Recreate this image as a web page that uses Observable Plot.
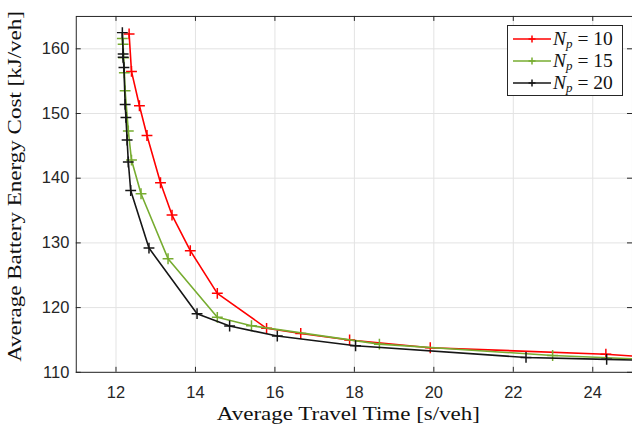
<!DOCTYPE html>
<html>
<head>
<meta charset="utf-8">
<script src="https://cdn.jsdelivr.net/npm/d3@7"></script>
<script src="https://cdn.jsdelivr.net/npm/@observablehq/plot@0.6"></script>
<style>
  html, body { margin: 0; padding: 0; background: #fff; overflow: hidden; }
  #wrap { position: relative; width: 632px; height: 426px; overflow: hidden; }
  #legend { position: absolute; left: 507px; top: 25px; width: 116px; height: 71px;
    border: 1px solid #262626; background: #fff; box-sizing: border-box;
    font-family: "Liberation Serif", "DejaVu Serif", serif; font-size: 19.5px; color: #111; }
  .row { position: absolute; left: 0; height: 22px; display: flex; align-items: center; }
  .row svg { margin-left: 5px; margin-right: 2px; }
  .row span { white-space: nowrap; }
  sub { font-size: 13px; vertical-align: -3px; line-height: 0; }
</style>
</head>
<body>
<div id="wrap"></div>
<script>
// ---- data ----
const seriesNames = ["N_p = 10", "N_p = 15", "N_p = 20"];
const seriesColors = ["#ff0000", "#77ac30", "#161616"];

const redX = [12.33, 12.39, 12.59, 12.78, 13.12, 13.41, 13.87, 14.55, 15.79, 16.65, 17.88, 19.91, 24.33, 26.0];
const redY = [162.3, 156.5, 151.2, 146.6, 139.3, 134.3, 128.8, 122.2, 116.8, 116.0, 115.0, 113.8, 112.8, 112.1];

const greenX = [12.16, 12.18, 12.19, 12.21, 12.23, 12.31, 12.39, 12.63, 13.31, 14.55, 15.41, 18.63, 22.99, 26.0];
const greenY = [161.6, 160.7, 158.6, 156.3, 153.5, 147.3, 142.8, 137.6, 127.55, 118.5, 117.2, 114.35, 112.6, 111.85];

const blackX = [12.16, 12.18, 12.18, 12.20, 12.23, 12.25, 12.28, 12.31, 12.37, 12.83, 14.04, 14.86, 16.06, 18.03, 22.32, 24.35, 26.0];
const blackY = [162.5, 159.2, 158.7, 157.1, 151.4, 149.4, 145.9, 142.5, 138.1, 129.2, 119.06, 117.16, 115.6, 114.1, 112.3, 112.0, 111.75];

const xTicks = [12, 14, 16, 18, 20, 22, 24];
const yTicks = [110, 120, 130, 140, 150, 160];
const xDomain = [11, 25];
const yDomain = [110, 165];
const xTitle = "Average Travel Time [s/veh]";
const yTitle = "Average Battery Energy Cost [kJ/veh]";

// ---- build tables ----
const toRows = (xs, ys) => xs.map((x, i) => ({x, y: ys[i]}));
const series = [toRows(redX, redY), toRows(greenX, greenY), toRows(blackX, blackY)];

const W = 634, H = 426, mL = 76, mR = 0, mT = 16, mB = 53;
const innerW = W - mL - mR, innerH = H - mT - mB;
const axisColor = "#262626";

const marks = [
  Plot.gridX(xTicks, {stroke: "#e3e3e3", strokeOpacity: 1, strokeWidth: 1}),
  Plot.gridY(yTicks, {stroke: "#e3e3e3", strokeOpacity: 1, strokeWidth: 1}),
];
series.forEach((rows, i) => {
  marks.push(Plot.line(rows, {x: "x", y: "y", stroke: seriesColors[i], strokeWidth: 1.6, clip: true}));
  marks.push(Plot.dot(rows, {x: "x", y: "y", symbol: "plus", r: 3.6, stroke: seriesColors[i], strokeWidth: 1.5, clip: true}));
});
marks.push(
  Plot.frame({stroke: axisColor, strokeWidth: 1}),
  Plot.ruleX(xTicks, {stroke: axisColor, insetTop: innerH - 5}),
  Plot.ruleX(xTicks, {stroke: axisColor, insetBottom: innerH - 5}),
  Plot.ruleY(yTicks, {stroke: axisColor, insetRight: innerW - 5}),
  Plot.ruleY(yTicks, {stroke: axisColor, insetLeft: innerW - 5}),
  Plot.axisX({ticks: xTicks, tickSize: 0, tickPadding: 14, label: null, fontSize: 16.5}),
  Plot.axisY({ticks: yTicks, tickSize: 0, tickPadding: 7, label: null, fontSize: 16.5}),
  Plot.text([xTitle], {text: d => d, frameAnchor: "bottom", dx: -6, dy: 48, lineAnchor: "bottom",
    textAnchor: "middle", fontFamily: "Liberation Serif", fontSize: 19, fill: "#111"}),
  Plot.text([yTitle], {text: d => d, frameAnchor: "left", rotate: -90, dx: -55, dy: -8, lineAnchor: "bottom",
    textAnchor: "middle", fontFamily: "Liberation Serif", fontSize: 19, fill: "#111"})
);

const chart = Plot.plot({
  width: W, height: H,
  marginLeft: mL, marginRight: mR, marginTop: mT, marginBottom: mB,
  x: {domain: xDomain},
  y: {domain: yDomain},
  style: {fontFamily: "'Liberation Sans', Arial, sans-serif", fontSize: "16.5px", color: axisColor, background: "#fff", overflow: "hidden"},
  marks
});
document.getElementById("wrap").appendChild(chart);

// stretch the axis titles to the reference's widths
d3.select(chart).selectAll("text").each(function() {
  const t = this.textContent;
  if (t === xTitle) { this.setAttribute("textLength", 264); this.setAttribute("lengthAdjust", "spacingAndGlyphs"); }
  if (t === yTitle) { this.setAttribute("textLength", 352); this.setAttribute("lengthAdjust", "spacingAndGlyphs"); }
});

// legend inside the axes (upper right)
const legend = document.createElement("div");
legend.id = "legend";
seriesNames.forEach((name, i) => {
  const row = document.createElement("div");
  row.className = "row";
  row.style.top = (2 + i * 22) + "px";
  const num = name.split("= ")[1];
  row.innerHTML = `<svg width="38" height="12"><line x1="0" y1="6" x2="38" y2="6" stroke="${seriesColors[i]}" stroke-width="1.6"/>` +
    `<line x1="15.5" y1="6" x2="22.5" y2="6" stroke="${seriesColors[i]}" stroke-width="1.5"/>` +
    `<line x1="19" y1="2.5" x2="19" y2="9.5" stroke="${seriesColors[i]}" stroke-width="1.5"/></svg>` +
    `<span><i>N</i><sub><i>p</i></sub> = ${num}</span>`;
  legend.appendChild(row);
});
document.getElementById("wrap").appendChild(legend);
</script>
</body>
</html>
